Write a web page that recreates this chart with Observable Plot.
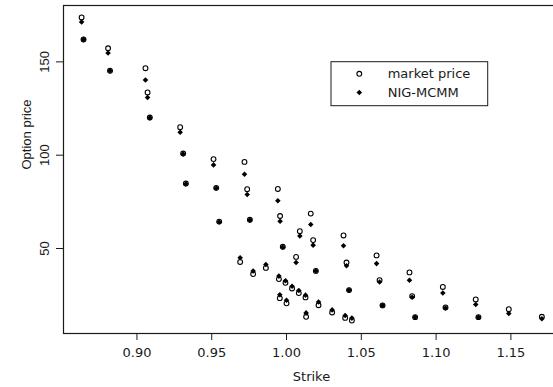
<!DOCTYPE html>
<html>
<head>
<meta charset="utf-8">
<script src="https://cdn.jsdelivr.net/npm/d3@7"></script>
<script src="https://cdn.jsdelivr.net/npm/@observablehq/plot@0.6"></script>
<style>
  html, body { margin: 0; padding: 0; background: white; }
</style>
</head>
<body>
<div id="chart"></div>
<script>
// Strike values (one per option)
const strikes = [
  0.8630, 0.8643, 0.8807, 0.8820, 0.9057, 0.9071, 0.9086, 0.9289, 0.9309, 0.9327,
  0.9512, 0.9530, 0.9550, 0.9690, 0.9719, 0.9737, 0.9755, 0.9777, 0.9862, 0.9942,
  0.9949, 0.9955, 0.9957, 0.9975, 0.9993, 1.0000, 1.0037, 1.0064, 1.0082, 1.0089,
  1.0127, 1.0131, 1.0162, 1.0178, 1.0196, 1.0214, 1.0305, 1.0381, 1.0392, 1.0401,
  1.0418, 1.0437, 1.0602, 1.0622, 1.0642, 1.0822, 1.0840, 1.0860, 1.1045, 1.1063,
  1.1265, 1.1283, 1.1486, 1.1707
];
// Observed market prices
const marketPrice = [
  173.8, 162.0, 157.3, 145.2, 146.6, 133.6, 120.2, 115.0, 100.9, 84.8,
  97.9, 82.5, 64.4, 42.8, 96.4, 81.8, 65.4, 36.3, 39.6, 81.9,
  33.6, 23.4, 67.4, 50.9, 31.6, 20.6, 28.6, 45.5, 26.1, 59.3,
  23.8, 13.4, 68.7, 54.5, 38.0, 19.6, 15.7, 57.0, 12.8, 42.5,
  27.7, 11.4, 46.3, 33.0, 19.5, 37.2, 24.5, 13.2, 29.4, 18.4,
  22.7, 13.2, 17.5, 13.4
];
// NIG-MCMM model prices
const modelPrice = [
  171.4, 162.0, 154.8, 145.2, 140.3, 130.9, 120.0, 112.3, 100.6, 84.6,
  94.8, 82.3, 64.2, 45.0, 89.8, 78.9, 65.2, 37.9, 41.4, 75.6,
  35.2, 25.2, 64.6, 50.7, 32.7, 22.3, 29.8, 42.5, 27.5, 56.7,
  25.0, 15.5, 62.9, 51.8, 37.9, 21.3, 17.1, 51.5, 14.1, 40.7,
  27.6, 12.7, 41.9, 32.0, 19.4, 33.0, 23.9, 13.1, 26.2, 18.1,
  20.0, 13.1, 15.2, 12.3
];
const xTicks = [0.90, 0.95, 1.00, 1.05, 1.10, 1.15];
const yTicks = [50, 100, 150];
const seriesNames = ["market price", "NIG-MCMM"];
const xLabel = "Strike";
const yLabel = "Option price";

const data = strikes.map((s, i) => ({strike: s, market: marketPrice[i], model: modelPrice[i]}));

const ink = "#1a1a1a";
const W = 553, H = 387;

const plot = Plot.plot({
  width: W,
  height: H,
  marginLeft: 63,
  marginTop: 5,
  marginBottom: 54,
  marginRight: -6,
  style: {fontFamily: "DejaVu Sans", fontSize: "13px", background: "white", color: ink},
  x: {domain: [0.8509, 1.1825]},
  y: {domain: [4.45, 180.2]},
  marks: [
    Plot.frame({stroke: ink, strokeWidth: 1.2}),
    Plot.axisX({ticks: xTicks, tickSize: 7, tickPadding: 7.5, tickFormat: d3.format(".2f"), label: null, stroke: ink, fill: ink}),
    Plot.axisY({ticks: yTicks, tickSize: 7, tickPadding: 7.7, tickRotate: -90, label: null, fontFamily: "Liberation Sans", stroke: ink, fill: ink}),
    Plot.text([xLabel], {frameAnchor: "bottom", text: d => d, lineAnchor: "bottom", dy: 47.4, fill: ink}),
    Plot.text([yLabel], {frameAnchor: "left", text: d => d, rotate: -90, lineAnchor: "bottom", dx: -33, fontFamily: "Liberation Sans", fill: ink}),
    Plot.dot(data, {x: "strike", y: "market", r: 2.4, stroke: "black", strokeWidth: 1.1, fill: "none"}),
    Plot.dot(data, {x: "strike", y: "model", symbol: "diamond2", r: 2.5, fill: "black", stroke: "none"})
  ]
});

document.getElementById("chart").appendChild(plot);

// Legend box inside the plot area
const svg = d3.select(plot);
const lg = svg.append("g").attr("font-family", "DejaVu Sans").attr("font-size", 13).attr("text-anchor", "start");
lg.append("rect").attr("x", 331).attr("y", 61.7).attr("width", 156.7).attr("height", 44)
  .attr("fill", "white").attr("stroke", ink).attr("stroke-width", 1);
const sym = d3.symbol().type(d3.symbolDiamond2).size(Math.PI * 2.5 * 2.5);
seriesNames.forEach((name, i) => {
  const cy = 73.8 + i * 18.6;
  if (i === 0) {
    lg.append("circle").attr("cx", 359.3).attr("cy", cy).attr("r", 2.4)
      .attr("fill", "none").attr("stroke", "black").attr("stroke-width", 1.1);
  } else {
    lg.append("path").attr("d", sym()).attr("transform", `translate(359.3,${cy})`).attr("fill", "black");
  }
  lg.append("text").attr("x", 387.7).attr("y", cy).attr("dy", "0.36em").attr("text-anchor", "start").attr("fill", ink).text(name);
});
</script>
</body>
</html>
